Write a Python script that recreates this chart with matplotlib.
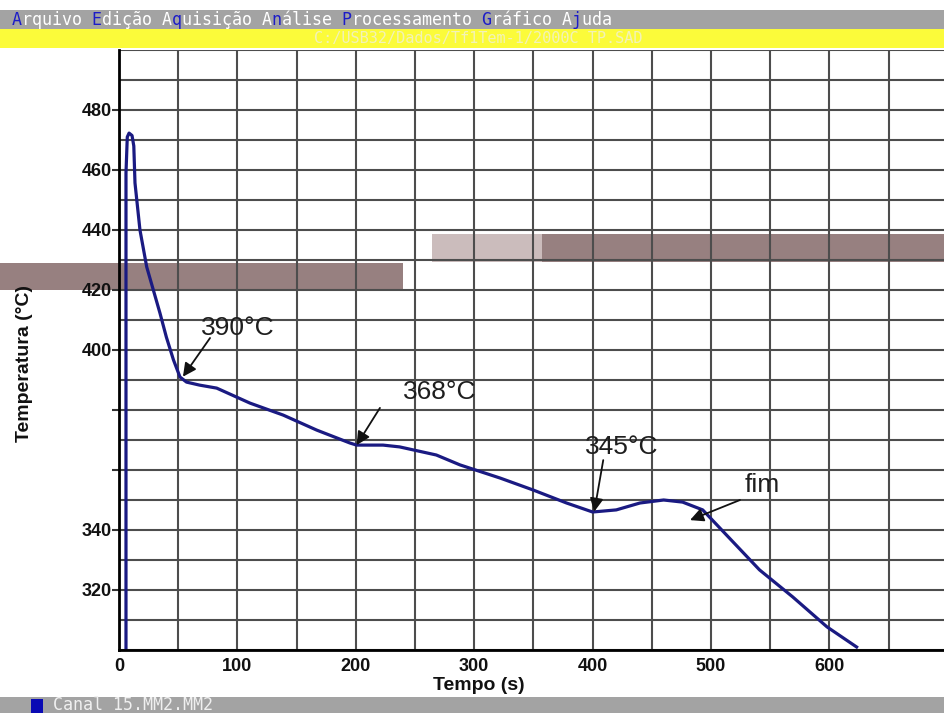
import matplotlib
matplotlib.use("Agg")
import matplotlib.pyplot as plt
from matplotlib.patches import Rectangle

# ---- data ----
time_s = [5.9, 5.9, 7.0, 8.5, 11.0, 12.5, 13.5, 17.7, 23.4, 29.0, 34.6, 40.0, 46.0,
          51.5, 57.0, 68.0, 82.5, 110.6, 138.7, 167.0, 195.0, 200.7, 223.0, 237.0,
          268.0, 288.0, 322.0, 350.0, 378.0, 400.0, 420.0, 440.0, 460.0, 476.0,
          493.0, 541.0, 569.0, 598.0, 623.0]
temp_c = [290.0, 459.0, 471.0, 472.3, 471.5, 468.0, 455.7, 440.0, 427.7, 420.0, 412.3,
          404.3, 396.7, 391.0, 389.3, 388.3, 387.3, 382.3, 378.3, 373.3, 369.0, 368.3,
          368.3, 367.7, 365.0, 361.7, 357.3, 353.3, 349.0, 346.0, 346.7, 349.0, 350.0,
          349.3, 346.7, 326.7, 317.7, 307.7, 301.0]

x_ticks = [0, 100, 200, 300, 400, 500, 600]
y_ticks = [320, 340, 360, 380, 400, 420, 440, 460, 480]
y_tick_labels = ["320", "340", "", "", "400", "420", "440", "460", "480"]

annot_texts = ["390°C", "368°C", "345°C", "fim"]
annot_text_pos = [(100.5, 407.3), (271.0, 386.0), (424.5, 367.8), (543.0, 355.0)]
annot_tail = [(76.9, 404.0), (220.4, 380.7), (409.0, 363.3), (524.5, 350.0)]
annot_tip = [(54.0, 391.1), (200.7, 368.3), (401.4, 346.1), (482.3, 343.3)]

menu_text = "Arquivo Edição Aquisição Análise Processamento Gráfico Ajuda"
menu_hot = [0, 8, 16, 26, 33, 47, 56]
file_path = "C:/USB32/Dados/Tf1Tem-1/2000C TP.SAD"
status_text = "Canal 15.MM2.MM2"
x_label = "Tempo (s)"
y_label = "Temperatura (°C)"

W, H = 944, 713
fig = plt.figure(figsize=(W / 100, H / 100), dpi=100)
fig.patch.set_facecolor("white")

def fx(px):
    return px / W

def fy(py):
    return 1 - py / H

# top menu bar and yellow title bar
fig.patches.append(Rectangle((0, fy(29)), 1, 19 / H, transform=fig.transFigure,
                             facecolor="#a3a3a3", edgecolor="none", zorder=-2))
fig.patches.append(Rectangle((0, fy(48)), 1, 19 / H, transform=fig.transFigure,
                             facecolor="#fbfb3a", edgecolor="none", zorder=-2))
# status bar
fig.patches.append(Rectangle((0, 0), 1, 16 / H, transform=fig.transFigure,
                             facecolor="#a3a3a3", edgecolor="none", zorder=-2))
fig.patches.append(Rectangle((fx(31), 0), 12 / W, 14 / H, transform=fig.transFigure,
                             facecolor="#0a0ab4", edgecolor="none", zorder=-1))

# brown bands seen across the plot area
fig.patches.append(Rectangle((0, fy(290)), 403 / W, 27 / H, transform=fig.transFigure,
                             facecolor="#978080", edgecolor="none", zorder=-1))
fig.patches.append(Rectangle((fx(432), fy(262)), 110 / W, 28 / H, transform=fig.transFigure,
                             facecolor="#cbbcbc", edgecolor="none", zorder=-1))
fig.patches.append(Rectangle((fx(542), fy(262)), 402 / W, 28 / H, transform=fig.transFigure,
                             facecolor="#978080", edgecolor="none", zorder=-1))

mono = ["DejaVu Sans Mono"]
white_part = "".join(" " if i in menu_hot else c for i, c in enumerate(menu_text))
blue_part = "".join(c if i in menu_hot else " " for i, c in enumerate(menu_text))
fig.text(fx(12), fy(20), white_part, family=mono, fontsize=12, color="white",
         ha="left", va="center")
fig.text(fx(12), fy(20), blue_part, family=mono, fontsize=12, color="#1c1cc8",
         ha="left", va="center")
fig.text(fx(478), fy(39), file_path, family=mono, fontsize=11, color="#f2f2b8",
         ha="center", va="center")
fig.text(fx(53), fy(705), status_text, family=mono, fontsize=12, color="#f0f0f0",
         ha="left", va="center")

# ---- main axes ----
ax = fig.add_axes([fx(119), 63 / H, 825 / W, 600 / H])
ax.set_facecolor("none")
ax.plot(time_s, temp_c, color="#1a1a82", lw=2.3, solid_joinstyle="round", zorder=3)
ax.set_xlim(0, 696.8)
ax.set_ylim(300, 500)

ax.set_xticks(list(range(0, 700, 50)), minor=True)
ax.set_yticks(list(range(300, 501, 10)), minor=True)
ax.set_xticks(x_ticks)
ax.set_yticks(y_ticks)
ax.set_yticklabels(y_tick_labels)
ax.grid(True, which="both", color="#4d4d4d", lw=1.5)
ax.set_axisbelow(True)

for s in ["top", "right"]:
    ax.spines[s].set_visible(False)
for s in ["left", "bottom"]:
    ax.spines[s].set_color("black")
    ax.spines[s].set_linewidth(2)
    ax.spines[s].set_zorder(4)

tickfont = dict(family=["Liberation Sans", "DejaVu Sans"], weight="bold", size=13)
ax.tick_params(axis="y", which="major", length=5, width=1.5, pad=0, color="#333333")
ax.tick_params(axis="x", which="major", length=0, pad=6)
ax.tick_params(which="minor", length=0)
for lab in ax.get_xticklabels() + ax.get_yticklabels():
    lab.set_fontfamily(tickfont["family"])
    lab.set_fontweight("bold")
    lab.set_fontsize(13)
    lab.set_color("#111111")

fig.text(fx(479), fy(685), x_label, family=["Liberation Sans", "DejaVu Sans"],
         weight="bold", fontsize=14, ha="center", va="center", color="#111111")
fig.text(fx(25), fy(364), y_label, family=["Liberation Sans", "DejaVu Sans"],
         weight="bold", fontsize=14, ha="center", va="center", rotation=90,
         color="#111111")

for txt, tp, tail, tip in zip(annot_texts, annot_text_pos, annot_tail, annot_tip):
    ax.text(tp[0], tp[1], txt, family=["Liberation Sans", "DejaVu Sans"], fontsize=19,
            ha="center", va="center", color="#1e1e1e", zorder=5)
    ax.annotate("", xy=tip, xytext=tail,
                arrowprops=dict(arrowstyle="-|>", color="#111111", lw=1.3,
                                mutation_scale=20, shrinkA=0, shrinkB=0),
                zorder=5)

fig.savefig("out.png", dpi=100, facecolor=fig.get_facecolor())
